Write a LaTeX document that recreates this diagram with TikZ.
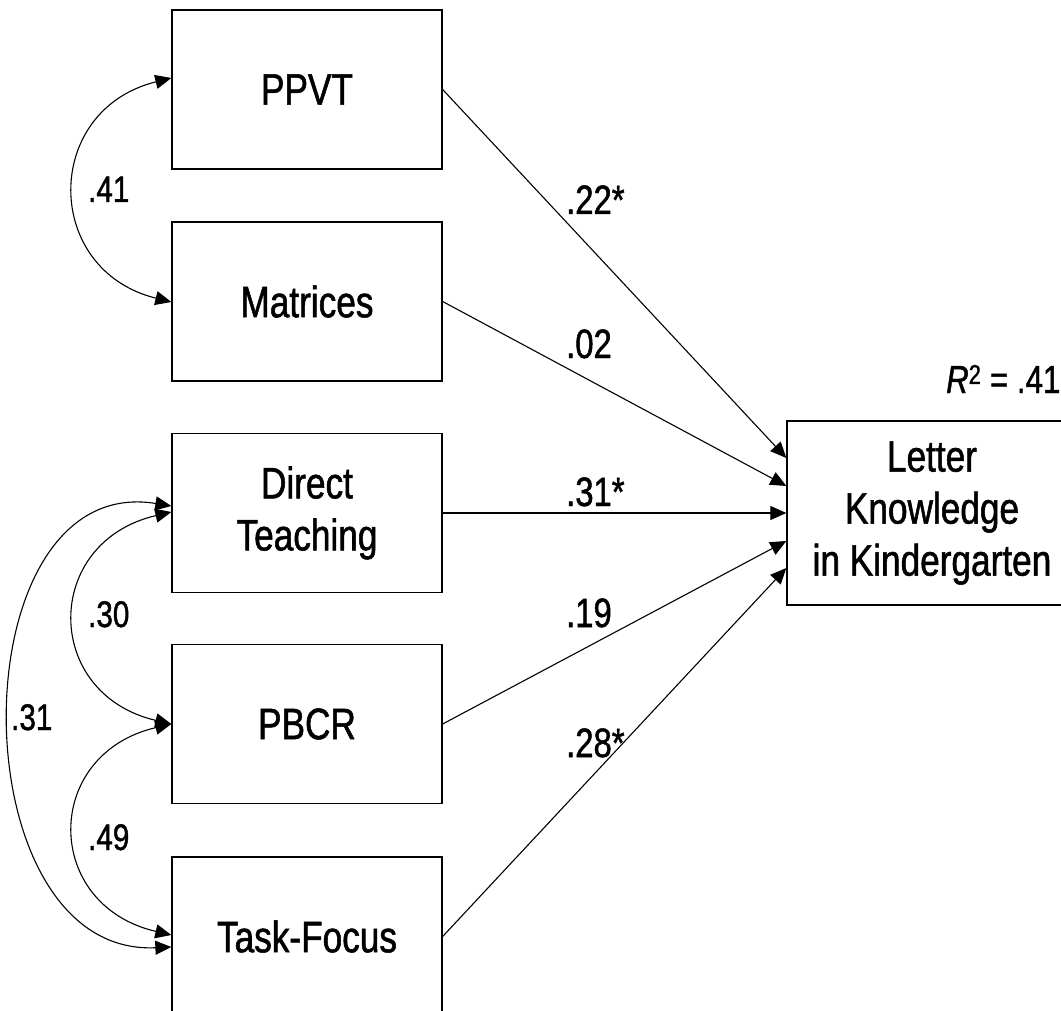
\documentclass[tikz,border=0pt]{standalone}
\usepackage{fontspec}
\setmainfont{Liberation Sans}[FakeStretch=0.8,FakeBold=1.2]
\usetikzlibrary{arrows.meta,calc}
\begin{document}
\begin{tikzpicture}[x=1pt,y=-1pt,
  varbox/.style={draw, line width=1.3pt, inner sep=0pt, align=center,
    minimum width=270pt, minimum height=159pt,
    font=\fontsize{44}{52}\selectfont},
  outbox/.style={varbox, minimum width=290pt, minimum height=184pt},
  pathlab/.style={inner sep=0pt, anchor=base west, font=\fontsize{41}{48}\selectfont},
  corlab/.style={inner sep=0pt, anchor=base west, font=\fontsize{37}{44}\selectfont},
  tip/.tip={Triangle[length=16pt,width=14pt]},
  effect/.style={line width=1.1pt, -tip},
  covary/.style={line width=1.1pt, tip-tip}]

  % canvas
  \fill[white] (0,0) rectangle (1061,1011);
  \clip (0,0) rectangle (1061,1011);
  \useasboundingbox (0,0) rectangle (1061,1011);

  % predictors
  \node[varbox] (ppvt) at (307,89.5)  {PPVT};
  \node[varbox] (mat)  at (307,301.5) {Matrices};
  \node[varbox] (dt)   at (307,513)   {Direct\\Teaching};
  \node[varbox] (pbcr) at (307,724)   {PBCR};
  \node[varbox] (tf)   at (307,936.5) {Task-Focus};

  % outcome
  \node[outbox] (lk) at (932,513) {Letter\\Knowledge\\in Kindergarten};
  \node[inner sep=0pt, anchor=base west, font=\fontsize{39}{46}\selectfont]
    (rsq) at (946,393) {\textit{R}\textsuperscript{2} = .41};

  % regression paths
  \draw[effect] (ppvt.east) -- ($(lk.west)+(0,-55)$);
  \draw[effect] (mat.east)  -- ($(lk.west)+(0,-27)$);
  \draw[effect] (dt.east)   -- (lk.west);
  \draw[effect] (pbcr.east) -- ($(lk.west)+(0,28)$);
  \draw[effect] (tf.east)   -- ($(lk.west)+(0,55)$);

  \node[pathlab] (b1) at (566,214) {.22*};
  \node[pathlab] (b2) at (566,358) {.02};
  \node[pathlab] (b3) at (566,506) {.31*};
  \node[pathlab] (b4) at (566,627) {.19};
  \node[pathlab] (b5) at (566,757) {.28*};

  % correlations
  \draw[covary] ($(ppvt.west)+(0,-11.5)$) .. controls +(-129,32) and +(-129,-32) .. ($(mat.west)+(0,0.5)$);
  \draw[covary] ($(dt.west)+(0,-1)$) .. controls +(-129,30) and +(-129,-30) .. (pbcr.west);
  \draw[covary] (pbcr.west) .. controls +(-129,30) and +(-129,-30) .. ($(tf.west)+(0,-1.5)$);
  \draw[covary] ($(dt.west)+(0,-7)$) .. controls +(-215,-35) and +(-215,10) .. ($(tf.west)+(0,10.5)$);

  \node[corlab] (r1) at (88,202) {.41};
  \node[corlab] (r2) at (88,627) {.30};
  \node[corlab] (r3) at (88,850) {.49};
  \node[corlab] (r4) at (11,730) {.31};
\end{tikzpicture}
\end{document}
